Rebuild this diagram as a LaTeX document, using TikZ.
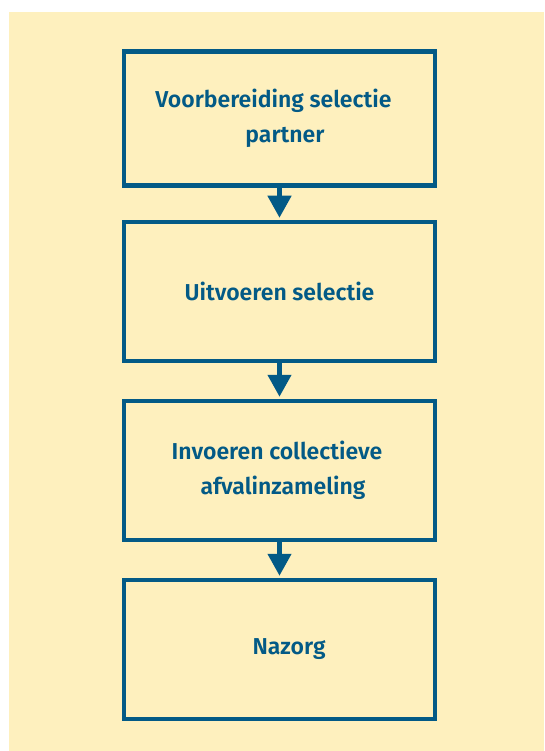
\documentclass[tikz,border=0pt]{standalone}
\usepackage{fontspec}
\setmainfont{Fira Sans}[BoldFont={Fira Sans SemiBold}]
\usetikzlibrary{arrows.meta}
\definecolor{bgyellow}{HTML}{FEF0BE}
\definecolor{roblue}{HTML}{035A86}
\tikzset{
  stepbox/.style={draw=roblue, line width=4.5pt, fill=none, inner sep=0pt,
    minimum width=311pt, text=roblue, align=center,
    font=\fontsize{23pt}{35pt}\selectfont\bfseries},
  flowarrow/.style={draw=roblue, line width=4.5pt,
    -{Triangle[width=23pt,length=22pt]}, shorten >=2pt}
}
\begin{document}
\begin{tikzpicture}[x=1pt,y=-1pt]
  \useasboundingbox (0,0) rectangle (544,751);
  \fill[bgyellow] (9,12) rectangle (544,751);
  \node[stepbox, minimum height=134pt] (b1) at (279.5,118.5)
    {\hspace*{-12pt}Voorbereiding selectie\\\hspace*{11pt}partner};
  \node[stepbox, minimum height=139pt] (b2) at (279.5,291.5)
    {Uitvoeren selectie};
  \node[stepbox, minimum height=139pt] (b3) at (279.5,470.5)
    {\hspace*{-5pt}Invoeren collectieve\\\hspace*{7pt}afvalinzameling};
  \node[stepbox, minimum height=139pt] (b4) at (279.5,649.5)
    {\hspace*{19pt}Nazorg};
  \draw[flowarrow] (b1.south) -- (b2.north);
  \draw[flowarrow] (b2.south) -- (b3.north);
  \draw[flowarrow] (b3.south) -- (b4.north);
\end{tikzpicture}
\end{document}
